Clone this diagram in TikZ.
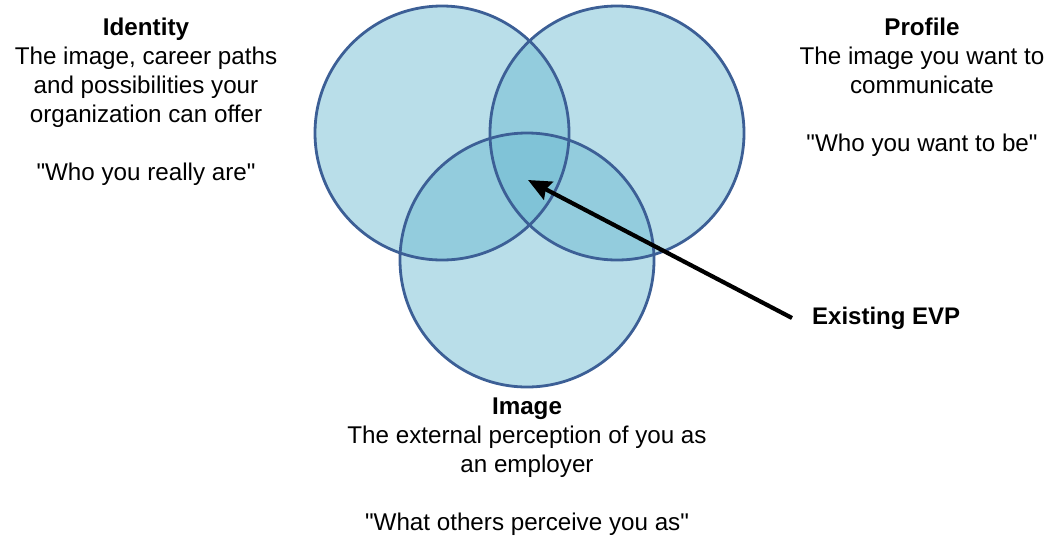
\documentclass[tikz,border=0pt]{standalone}
\usepackage{fontspec}
\setmainfont{Liberation Sans}
\usetikzlibrary{arrows.meta}
\definecolor{vennfill}{RGB}{106,185,208}
\definecolor{vennline}{RGB}{60,95,150}

\tikzset{
  venn/.style={circle,minimum size=254pt,inner sep=0pt,fill=vennfill,fill opacity=0.47},
  rim/.style={draw=vennline,line width=2.8pt},
  blurb/.style={inner sep=0pt,align=center,font=\fontsize{24.2}{29}\selectfont},
  pointer/.style={-{Stealth[length=23pt,width=20pt,inset=3pt]},line width=4.2pt}
}

\begin{document}
\begin{tikzpicture}[x=1pt,y=-1pt]
\useasboundingbox (0,0) rectangle (1056,536);

\node[venn] (identity) at (442,133) {};
\node[venn] (profile) at (617,133) {};
\node[venn] (image) at (527,260) {};
\foreach \c in {identity,profile,image}
  \draw[rim] (\c) circle[radius=127pt];

\node[blurb,anchor=north] (identitytext) at (146,18) {\textbf{Identity}\\The image, career paths\\and possibilities your\\organization can offer\\[29pt]\textquotedbl Who you really are\textquotedbl};
\node[blurb,anchor=north] (profiletext) at (922,18) {\textbf{Profile}\\The image you want to\\communicate\\[29pt]\textquotedbl Who you want to be\textquotedbl};
\node[blurb,anchor=north] (imagetext) at (527,398) {\textbf{Image}\\The external perception of you as\\an employer\\[29pt]\textquotedbl What others perceive you as\textquotedbl};

\coordinate (core) at (528,180);
\node[blurb,font=\fontsize{24}{29}\selectfont\bfseries,inner xsep=20pt,anchor=west] (evp) at (792,318) {Existing EVP};
\draw[pointer] (evp.west) -- (core);
\end{tikzpicture}
\end{document}
